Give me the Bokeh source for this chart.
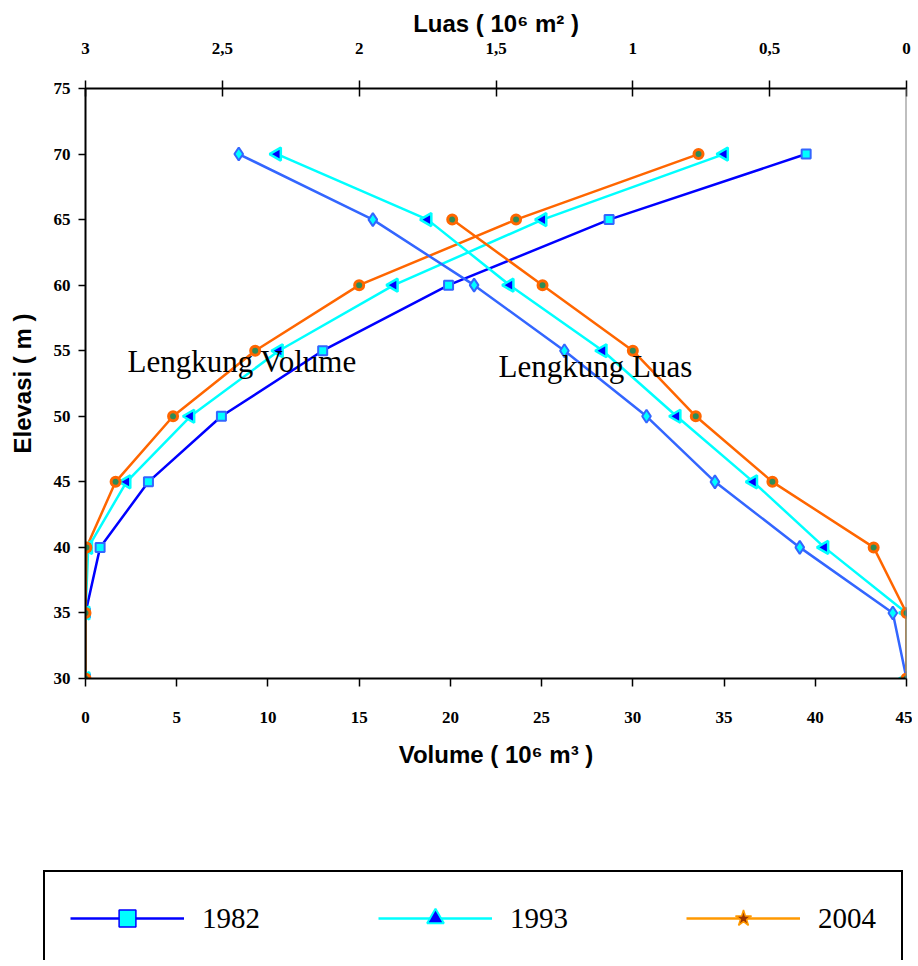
import math
from bokeh.plotting import figure
from bokeh.models import (Range1d, LinearAxis, FixedTicker, CustomJSTickFormatter,
                          Span, Label, Legend, LegendItem)
from bokeh.layouts import column
from bokeh.embed import file_html
from bokeh.resources import INLINE

# ---- data ----
elev = [30, 35, 40, 45, 50, 55, 60, 65, 70]
vol_1982 = [0, 0, 0.8, 3.45, 7.45, 13.0, 19.9, 28.7, 39.5]
vol_1993 = [0, 0, 0.15, 2.25, 5.75, 10.6, 16.9, 25.05, 35.0]
vol_2004 = [0, 0, 0.05, 1.65, 4.8, 9.3, 15.0, 23.6, 33.6]
luas_1982 = [0, 0.05, 0.39, 0.70, 0.95, 1.25, 1.58, 1.95, 2.44]
luas_1993 = [0, 0, 0.30, 0.56, 0.84, 1.11, 1.45, 1.75, 2.30]
elev_2004_luas = [30, 35, 40, 45, 50, 55, 60, 65]
luas_2004 = [0, 0, 0.12, 0.49, 0.77, 1.0, 1.33, 1.66]
vol_ticks = [0, 5, 10, 15, 20, 25, 30, 35, 40, 45]
elev_ticks = [30, 35, 40, 45, 50, 55, 60, 65, 70, 75]
luas_ticks = [0, 0.5, 1, 1.5, 2, 2.5, 3]
years = ["1982", "1993", "2004"]

SERIF = "Liberation Serif"
SANS = "Liberation Sans"

W, H = 912, 780
p = figure(width=W, height=H, x_range=Range1d(0, 45), y_range=Range1d(30, 75),
           output_backend="svg", toolbar_location=None,
           min_border_left=85, min_border_right=W - 906, min_border_top=88,
           min_border_bottom=H - 678)
p.frame_align = False
p.extra_x_ranges = {"luas": Range1d(3, 0)}
p.grid.visible = False
p.outline_line_color = None
p.background_fill_color = "white"

bx = p.below[0]
bx.ticker = FixedTicker(ticks=vol_ticks)
bx.axis_label = "Volume ( 10⁶ m³ )"
bx.major_tick_in = 0
bx.major_tick_out = 8
bx.major_label_standoff = 25
bx.axis_label_standoff = 15

ly = p.left[0]
ly.ticker = FixedTicker(ticks=elev_ticks)
ly.axis_label = "Elevasi ( m )"
ly.major_tick_in = 0
ly.major_tick_out = 7
ly.major_label_standoff = 8
ly.axis_label_standoff = 15

top = LinearAxis(x_range_name="luas", ticker=FixedTicker(ticks=luas_ticks),
                 formatter=CustomJSTickFormatter(code="return tick.toString().replace('.', ',');"),
                 axis_label="Luas ( 10⁶ m² )")
top.major_tick_in = 8
top.major_tick_out = 8
top.major_label_standoff = 27
top.axis_label_standoff = 3
p.add_layout(top, "above")

for ax in [bx, ly, top]:
    ax.minor_tick_line_color = None
    ax.axis_line_color = "black"
    ax.axis_line_width = 2
    ax.major_tick_line_color = "black"
    ax.major_tick_line_width = 1.5
    ax.major_label_text_font = SERIF
    ax.major_label_text_font_style = "bold"
    ax.major_label_text_font_size = "17px"
    ax.major_label_text_color = "black"
    ax.axis_label_text_font = SANS
    ax.axis_label_text_font_style = "bold"
    ax.axis_label_text_font_size = "24px"
    ax.axis_label_text_color = "black"

p.add_layout(Span(location=45, dimension="height", line_color="#808080", line_width=2))

# Volume curves
p.line(vol_1982, elev, line_color="#0000FF", line_width=2.5)
p.line(vol_1993, elev, line_color="#00FFFF", line_width=2.5)
p.line(vol_2004, elev, line_color="#FF6600", line_width=2.5)
# Area curves
p.line(luas_1982, elev, x_range_name="luas", line_color="#3366FF", line_width=2.5)
p.line(luas_1993, elev, x_range_name="luas", line_color="#00FFFF", line_width=2.5)
p.line(luas_2004, elev_2004_luas, x_range_name="luas", line_color="#FF6600", line_width=2.5)

p.scatter(vol_1982, elev, marker="square", size=9, fill_color="#00FFFF",
          line_color="#3366FF", line_width=2)
p.scatter(luas_1982, elev, x_range_name="luas", marker="diamond", size=13,
          fill_color="#00FFFF", line_color="#3366FF", line_width=2)
p.scatter(vol_1993, elev, marker="triangle", angle=math.pi / 2, size=13,
          fill_color="#0000FF", line_color="#00FFFF", line_width=2.5)
p.scatter(luas_1993, elev, x_range_name="luas", marker="triangle", angle=math.pi / 2, size=13,
          fill_color="#0000FF", line_color="#00FFFF", line_width=2.5)
p.scatter(vol_2004, elev, marker="circle", size=9, fill_color="#2E8B57",
          line_color="#FF6600", line_width=3)
p.scatter(luas_2004, elev_2004_luas, x_range_name="luas", marker="circle", size=9,
          fill_color="#2E8B57", line_color="#FF6600", line_width=3)

p.add_layout(Label(x=2.3, y=54.18, text="Lengkung Volume", text_font=SERIF,
                   text_font_size="31px", text_baseline="alphabetic", text_color="black"))
p.add_layout(Label(x=22.64, y=53.8, text="Lengkung Luas", text_font=SERIF,
                   text_font_size="31px", text_baseline="alphabetic", text_color="black"))

# ---- legend panel (its sample renderers sit outside the panel's view) ----
LH = 180
lf = figure(width=W, height=LH, x_range=Range1d(1000, 1001), y_range=Range1d(1000, 1001),
            output_backend="svg", toolbar_location=None, min_border=0,
            min_border_left=0, min_border_right=0, min_border_top=0, min_border_bottom=0,
            x_axis_location=None, y_axis_location=None)
lf.frame_align = False
lf.grid.visible = False
lf.outline_line_color = None

r1l = lf.line(vol_1982, elev, line_color="#0000FF", line_width=2.5)
r1m = lf.scatter(vol_1982, elev, marker="square", fill_color="#00FFFF",
                 line_color="#0000FF", line_width=1.5)
r2l = lf.line(vol_1993, elev, line_color="#00FFFF", line_width=2.5)
r2m = lf.scatter(vol_1993, elev, marker="triangle", angle=math.pi / 2, fill_color="#0000FF",
                 line_color="#00FFFF", line_width=2)
r3l = lf.line(vol_2004, elev, line_color="#FF9900", line_width=2.5)
r3m = lf.scatter(vol_2004, elev, marker="star", fill_color="#993300",
                 line_color="#FF9900", line_width=1.5)

legend = Legend(items=[LegendItem(label=years[0], renderers=[r1l, r1m]),
                       LegendItem(label=years[1], renderers=[r2l, r2m]),
                       LegendItem(label=years[2], renderers=[r3l, r3m])],
                orientation="horizontal", location=(43, -6), padding=25, margin=0,
                glyph_width=114, glyph_height=42, label_height=42, label_standoff=18,
                spacing=118, label_text_font=SERIF, label_text_font_size="29px",
                label_text_color="black", border_line_color="black", border_line_width=2,
                border_line_alpha=1.0,
                background_fill_color="white", background_fill_alpha=1)
lf.add_layout(legend, "center")

layout = column(p, lf)
open("out.html", "w").write(file_html(layout, INLINE))
